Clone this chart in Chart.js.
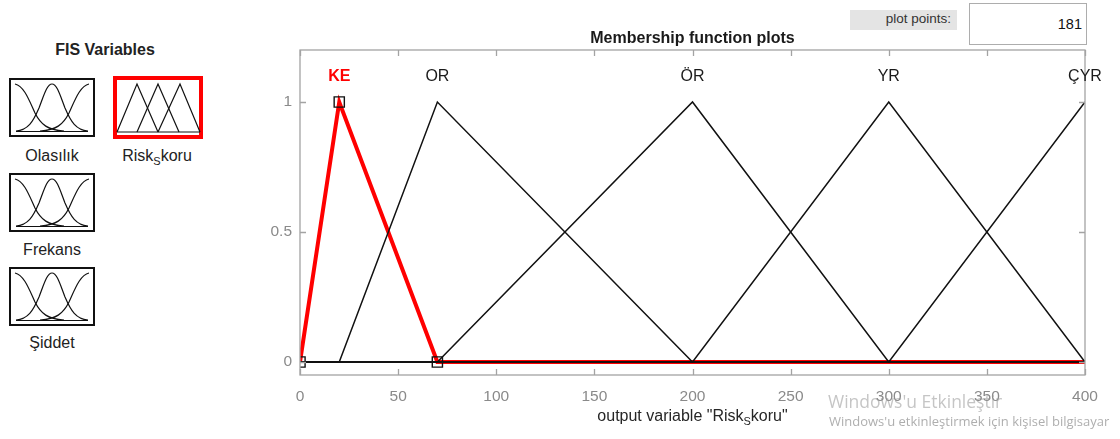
<!DOCTYPE html>
<html>
<head>
<meta charset="utf-8">
<script src="https://cdn.jsdelivr.net/npm/chart.js@4.4.1/dist/chart.umd.min.js"></script>
<style>
  html, body { margin: 0; padding: 0; background: #fff; }
  body { width: 1120px; height: 439px; position: relative; overflow: hidden;
         font-family: "Liberation Sans", Arial, Helvetica, sans-serif; }
  #plot { position: absolute; left: 0; top: 0; width: 1120px; height: 439px; }
  .lbl { position: absolute; font-size: 16px; color: #222; white-space: nowrap;
         transform: translate(-50%, -50%); }
  .lbl sub { font-size: 11px; vertical-align: -4px; line-height: 0; }
  #fisTitle { font-weight: bold; }
  #ppLabel { position: absolute; left: 850px; top: 10px; width: 107px; height: 20px;
             background: #e4e4e4; font-size: 13.5px; color: #333; text-align: right;
             box-sizing: border-box; padding-right: 6px; line-height: 17px; }
  #ppBox { position: absolute; left: 969px; top: 3px; width: 118px; height: 42px;
           border: 1.5px solid #adadad; box-sizing: border-box; font-size: 14.5px;
           color: #111; text-align: right; padding-right: 4px; line-height: 40px; }
  #wm1 { position: absolute; left: 828px; top: 389px; font-family: "Open Sans", "Noto Sans", sans-serif;
         font-size: 17.5px; color: rgba(150,150,150,0.55); white-space: nowrap; }
  #wm2 { position: absolute; left: 829px; top: 412px; font-family: "Open Sans", "Noto Sans", sans-serif;
         font-size: 13px; color: rgba(140,140,140,0.7); white-space: nowrap; }
</style>
</head>
<body>
<!-- variable selector panel -->
<svg id="icons" width="260" height="360" style="position:absolute;left:0;top:0">
  <g id="gaussIcon" fill="none" stroke="#111" stroke-width="1.2">
    <rect x="10" y="79" width="84" height="57" stroke-width="2"/>
    <path d="M15,84 C24,86 29,100 35,113 C41,125 48,130 64,131"/>
    <path d="M16,131 C28,130 33,122 39,108 C44,95 47,84 52,84 C57,84 60,95 65,108 C71,122 76,130 88,131"/>
    <path d="M89,84 C80,86 75,100 69,113 C63,125 56,130 40,131"/>
    <path d="M16,131.5 L88,131.5"/>
  </g>
  <use href="#gaussIcon" y="95"/>
  <use href="#gaussIcon" y="189"/>
  <g fill="none" stroke="#111" stroke-width="1.2">
    <rect x="115" y="78" width="86" height="59" stroke="#ff0000" stroke-width="4"/>
    <path d="M117,132 L137,84 L158,132"/>
    <path d="M137,132 L158,84 L179,132"/>
    <path d="M158,132 L180,84 L200,132"/>
    <path d="M117,132 L200,132"/>
  </g>
</svg>
<div class="lbl" id="fisTitle" style="left:105px;top:50px">FIS Variables</div>
<div class="lbl" style="left:52px;top:156px">Olasılık</div>
<div class="lbl" style="left:157px;top:156px">Risk<sub>S</sub>koru</div>
<div class="lbl" style="left:52px;top:250px">Frekans</div>
<div class="lbl" style="left:52px;top:343px">Şiddet</div>

<div id="ppLabel">plot points:</div>
<div id="ppBox">181</div>

<canvas id="plot" width="1120" height="439"></canvas>

<div id="wm1">Windows'u Etkinleştir</div>
<div id="wm2">Windows'u etkinleştirmek için kişisel bilgisayar</div>

<script>
// Output variable "Risk_Skoru": universe of discourse and triangular membership functions
const xRange = [0, 400];
const xTicks = [0, 50, 100, 150, 200, 250, 300, 350, 400];
const yTicks = [0, 0.5, 1];
const mfNames = ['KE', 'OR', 'ÖR', 'YR', 'ÇYR'];
const mfKE  = [0, 20, 70];
const mfOR  = [20, 70, 200];
const mfOR2 = [70, 200, 300];
const mfYR  = [200, 300, 400];
const mfCYR = [300, 400, 500];
const selectedMf = 'KE';

const mfParams = [mfKE, mfOR, mfOR2, mfYR, mfCYR];

// Polyline for a trimf [a b c] over the plotted range (zero outside its support)
function trimfPolyline(p) {
  const [a, b, c] = p;
  const lo = xRange[0], hi = xRange[1];
  const pts = [{ x: lo, y: 0 }];
  if (a > lo && a <= hi) pts.push({ x: a, y: 0 });
  if (b <= hi) pts.push({ x: b, y: 1 });
  if (c <= hi) { pts.push({ x: c, y: 0 }); if (c < hi) pts.push({ x: hi, y: 0 }); }
  return pts;
}

const FONT = '"Liberation Sans", Arial, Helvetica, sans-serif';

const datasets = [];
// parameter markers of the selected function (drawn on top)
const selIdx = mfNames.indexOf(selectedMf);
datasets.push({
  type: 'scatter',
  data: [
    { x: mfParams[selIdx][0], y: 0 },
    { x: mfParams[selIdx][1], y: 1 },
    { x: mfParams[selIdx][2], y: 0 }
  ],
  pointStyle: 'rect', pointRadius: 7.2, pointBorderWidth: 1.4,
  pointBorderColor: '#111', pointBackgroundColor: 'rgba(0,0,0,0)',
  showLine: false, order: 0
});
mfNames.forEach((name, i) => {
  const sel = name === selectedMf;
  datasets.push({
    type: 'line',
    label: name,
    data: trimfPolyline(mfParams[i]),
    borderColor: sel ? '#ff0000' : '#111111',
    borderWidth: sel ? 4 : 1.5,
    pointRadius: 0,
    tension: 0,
    fill: false,
    order: sel ? 3 : 1
  });
});

// frame, inward tick marks, function labels, title and axis label
const decorations = {
  id: 'decorations',
  afterDatasetsDraw(chart) {
    const { ctx, chartArea: a, scales: { x, y } } = chart;
    ctx.save();
    ctx.strokeStyle = '#a3a3a3';
    ctx.lineWidth = 1.3;
    ctx.strokeRect(a.left, a.top, a.right - a.left, a.bottom - a.top);
    const tl = 6;
    ctx.beginPath();
    x.ticks.forEach(t => {
      const px = Math.round(x.getPixelForValue(t.value)) + 0.5;
      ctx.moveTo(px, a.bottom); ctx.lineTo(px, a.bottom - tl);
      ctx.moveTo(px, a.top); ctx.lineTo(px, a.top + tl);
    });
    y.ticks.forEach(t => {
      const py = Math.round(y.getPixelForValue(t.value)) + 0.5;
      ctx.moveTo(a.left, py); ctx.lineTo(a.left + tl, py);
      ctx.moveTo(a.right, py); ctx.lineTo(a.right - tl, py);
    });
    ctx.stroke();

    // function names above their peaks
    ctx.textAlign = 'center';
    ctx.textBaseline = 'middle';
    const ly = y.getPixelForValue(1) - 25;
    mfNames.forEach((name, i) => {
      const sel = name === selectedMf;
      ctx.font = (sel ? 'bold ' : '') + '16px ' + FONT;
      ctx.fillStyle = sel ? '#ff0000' : '#1a1a1a';
      ctx.fillText(name, x.getPixelForValue(mfParams[i][1]), ly);
    });

    // title
    const cx = (a.left + a.right) / 2;
    ctx.font = 'bold 16px ' + FONT;
    ctx.fillStyle = '#1a1a1a';
    ctx.fillText('Membership function plots', cx, a.top - 11);

    // x-axis label with subscript
    const parts = [
      { t: 'output variable "Risk', f: '16px ' + FONT, dy: 0 },
      { t: 'S', f: '11px ' + FONT, dy: 5 },
      { t: 'koru"', f: '16px ' + FONT, dy: 0 }
    ];
    let total = 0;
    parts.forEach(p => { ctx.font = p.f; p.w = ctx.measureText(p.t).width; total += p.w; });
    let px = cx - total / 2;
    const by = a.bottom + 42;
    ctx.textAlign = 'left';
    ctx.fillStyle = '#262626';
    parts.forEach(p => { ctx.font = p.f; ctx.fillText(p.t, px, by + p.dy); px += p.w; });
    ctx.restore();
  }
};

new Chart(document.getElementById('plot'), {
  type: 'line',
  data: { datasets },
  options: {
    responsive: false,
    animation: false,
    events: [],
    layout: { padding: { left: 260, top: 50, right: 35, bottom: 0 } },
    plugins: { legend: { display: false }, tooltip: { enabled: false }, title: { display: false } },
    scales: {
      x: {
        type: 'linear', min: xRange[0], max: xRange[1],
        afterBuildTicks: s => { s.ticks = xTicks.map(v => ({ value: v })); },
        afterFit: s => { s.height = 64; },
        grid: { display: false, drawTicks: false },
        border: { display: false },
        ticks: { color: '#8a8a8a', font: { size: 15.5, family: FONT }, padding: 12, maxRotation: 0,
                 callback: v => String(v) }
      },
      y: {
        type: 'linear', min: -0.05, max: 1.2,
        afterBuildTicks: s => { s.ticks = yTicks.map(v => ({ value: v })); },
        afterFit: s => { s.width = 40; },
        grid: { display: false, drawTicks: false },
        border: { display: false },
        ticks: { color: '#8a8a8a', font: { size: 15.5, family: FONT }, padding: 8,
                 callback: v => String(v) }
      }
    }
  },
  plugins: [decorations]
});
</script>
</body>
</html>
